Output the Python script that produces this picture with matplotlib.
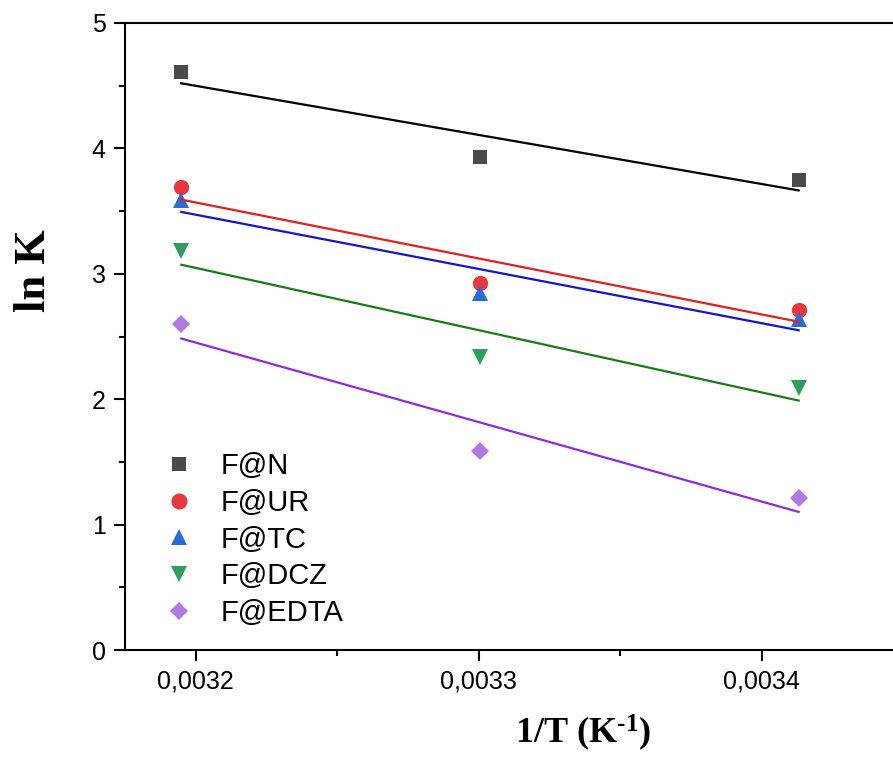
import numpy as np
import matplotlib
matplotlib.use("Agg")
import matplotlib.pyplot as plt
from matplotlib.ticker import FixedLocator, FuncFormatter

# ---- data ----
temps_K = [313, 303, 293]
inv_T = [1.0 / t for t in temps_K]
series_names = ["F@N", "F@UR", "F@TC", "F@DCZ", "F@EDTA"]
lnK_N = [4.61, 3.93, 3.75]
lnK_UR = [3.69, 2.93, 2.71]
lnK_TC = [3.59, 2.85, 2.64]
lnK_DCZ = [3.18, 2.34, 2.09]
lnK_EDTA = [2.60, 1.59, 1.21]
all_series = [lnK_N, lnK_UR, lnK_TC, lnK_DCZ, lnK_EDTA]
x_major_ticks = [0.0032, 0.0033, 0.0034]
x_minor_ticks = [0.00325, 0.00335, 0.00345]
y_major_ticks = [0, 1, 2, 3, 4, 5]
y_minor_ticks = [0.5, 1.5, 2.5, 3.5, 4.5]

markers = ["s", "o", "^", "v", "D"]
marker_sizes = [10, 11, 11, 11, 9]
marker_colors = ["#4a4a4a", "#e8383d", "#2a6bd6", "#2e9e5e", "#b07ae0"]
line_colors = ["#000000", "#e02020", "#1414c8", "#1a7a1a", "#8a2be2"]

plt.rcParams["mathtext.fontset"] = "custom"
plt.rcParams["mathtext.rm"] = "Liberation Serif:bold"
plt.rcParams["mathtext.bf"] = "Liberation Serif:bold"
plt.rcParams["mathtext.it"] = "Liberation Serif:bold"

W, H = 893, 757
fig = plt.figure(figsize=(W / 100, H / 100), dpi=100)
left_px, right_px, top_px, bottom_px = 125, 1045, 23, 650
ax = fig.add_axes([left_px / W, (H - bottom_px) / H,
                   (right_px - left_px) / W, (bottom_px - top_px) / H])

x = np.array(inv_T)
for ys, m, ms, mc, lc, name in zip(all_series, markers, marker_sizes,
                                   marker_colors, line_colors, series_names):
    ax.plot(x, ys, linestyle="none", marker=m, markersize=ms, color=mc,
            markeredgewidth=0, label=name, zorder=2)
    k, b = np.polyfit(x, ys, 1)
    xx = np.array([x.min(), x.max()])
    ax.plot(xx, k * xx + b, color=lc, linewidth=1.6, zorder=3)

ax.set_xlim(0.003175, 0.0035)
ax.set_ylim(0, 5)

ax.xaxis.set_major_locator(FixedLocator(x_major_ticks))
ax.xaxis.set_minor_locator(FixedLocator(x_minor_ticks))
ax.xaxis.set_major_formatter(FuncFormatter(lambda v, p: f"{v:.4f}".replace(".", ",")))
ax.yaxis.set_major_locator(FixedLocator(y_major_ticks))
ax.yaxis.set_minor_locator(FixedLocator(y_minor_ticks))

for s in ["left", "bottom", "top", "right"]:
    ax.spines[s].set_linewidth(1.5)
ax.tick_params(which="major", direction="out", length=8, width=1.5,
               labelsize=18, top=False, right=False, pad=6)
ax.tick_params(which="minor", direction="out", length=4.5, width=1.5,
               top=False, right=False)
for lab in ax.get_xticklabels() + ax.get_yticklabels():
    lab.set_fontfamily("Liberation Sans")

ax.set_ylabel("ln K", fontfamily="Liberation Serif", fontweight="bold", fontsize=32)
ax.yaxis.set_label_coords(54 / W, (H - 271) / H, transform=fig.transFigure)
ax.set_xlabel(r"1/T (K$^{\text{-1}}$)", fontfamily="Liberation Serif",
              fontweight="bold", fontsize=26)
ax.xaxis.set_label_coords(583 / W, (H - 713) / H, transform=fig.transFigure)

leg = ax.legend(loc="upper left", bbox_to_anchor=(164 / W, (H - 452) / H),
                bbox_transform=fig.transFigure, frameon=False,
                prop={"family": "Liberation Sans", "size": 21},
                handlelength=1.0, handletextpad=0.95, labelspacing=0.3,
                borderpad=0, borderaxespad=0, markerscale=1.05)

fig.savefig("out.png", dpi=100)
